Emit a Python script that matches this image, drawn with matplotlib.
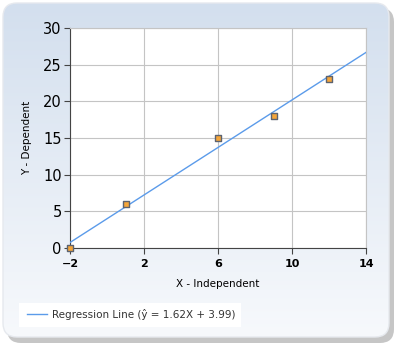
import numpy as np
import matplotlib.pyplot as plt
from matplotlib.patches import FancyBboxPatch
from matplotlib.colors import LinearSegmentedColormap

x_vals = [-2, 1, 6, 9, 12]
y_vals = [0, 6, 15, 18, 23]
slope = 1.62
intercept = 3.99
x_ticks = [-2, 2, 6, 10, 14]
y_ticks = [0, 5, 10, 15, 20, 25, 30]

fig = plt.figure(figsize=(4, 3.5), dpi=100)

# background panel with gradient and shadow
bg = fig.add_axes([0, 0, 1, 1])
bg.set_xlim(0, 400)
bg.set_ylim(350, 0)
bg.axis("off")
shadow = FancyBboxPatch((7, 8), 387, 335, boxstyle="round,pad=0,rounding_size=14",
                        fc="#a0a0a0", ec="none", alpha=0.6, zorder=0)
bg.add_patch(shadow)
panel = FancyBboxPatch((3, 3), 386, 334, boxstyle="round,pad=0,rounding_size=14",
                       fc="none", ec="#e6e9ee", lw=1, zorder=2)
bg.add_patch(panel)
grad = np.linspace(0, 1, 256).reshape(-1, 1)
cmap = LinearSegmentedColormap.from_list("bg", ["#d3dfee", "#f7f9fc"])
im = bg.imshow(grad, cmap=cmap, extent=[3, 389, 337, 3], aspect="auto", zorder=1)
im.set_clip_path(panel)

# legend box
bg.add_patch(plt.Rectangle((19, 303), 222, 24, fc="white", ec="none", zorder=3))

ax = fig.add_axes([70 / 400, 1 - 248 / 350, 296 / 400, 220 / 350])
xs = np.array([x_ticks[0], x_ticks[-1]])
ax.plot(xs, slope * xs + intercept, color="#5b9bea", lw=1, zorder=3,
        label="Regression Line (\u0177 = %.2fX + %.2f)" % (slope, intercept))
ax.scatter(x_vals, y_vals, marker="s", s=24, c="#f5a63a", edgecolors="#5d6370",
           linewidths=1, zorder=4, clip_on=False)
ax.set_xlim(x_ticks[0], x_ticks[-1])
ax.set_ylim(y_ticks[0], y_ticks[-1])
ax.set_xticks(x_ticks)
ax.set_yticks(y_ticks)
ax.grid(color="#c4c4c4", lw=0.8)
ax.set_axisbelow(True)
for s in ["top", "right"]:
    ax.spines[s].set_color("#c4c4c4")
for s in ["left", "bottom"]:
    ax.spines[s].set_color("#444444")
ax.tick_params(axis="x", labelsize=8, direction="out", length=4, color="#444444", pad=4)
ax.tick_params(axis="y", labelsize=10.5, direction="out", length=4, color="#444444", pad=2)
for t in ax.get_xticklabels():
    t.set_fontweight("bold")
ax.set_xlabel("X - Independent", fontsize=7.5, labelpad=7)
ax.set_ylabel("Y - Dependent", fontsize=7.5, labelpad=8)

fig.legend(loc="upper left", bbox_to_anchor=(27 / 400, 1 - 309 / 350), frameon=False,
           fontsize=7.5, handlelength=1.9, handletextpad=0.5, borderaxespad=0,
           borderpad=0, labelcolor="#333333")

fig.savefig("out.png", dpi=100)
